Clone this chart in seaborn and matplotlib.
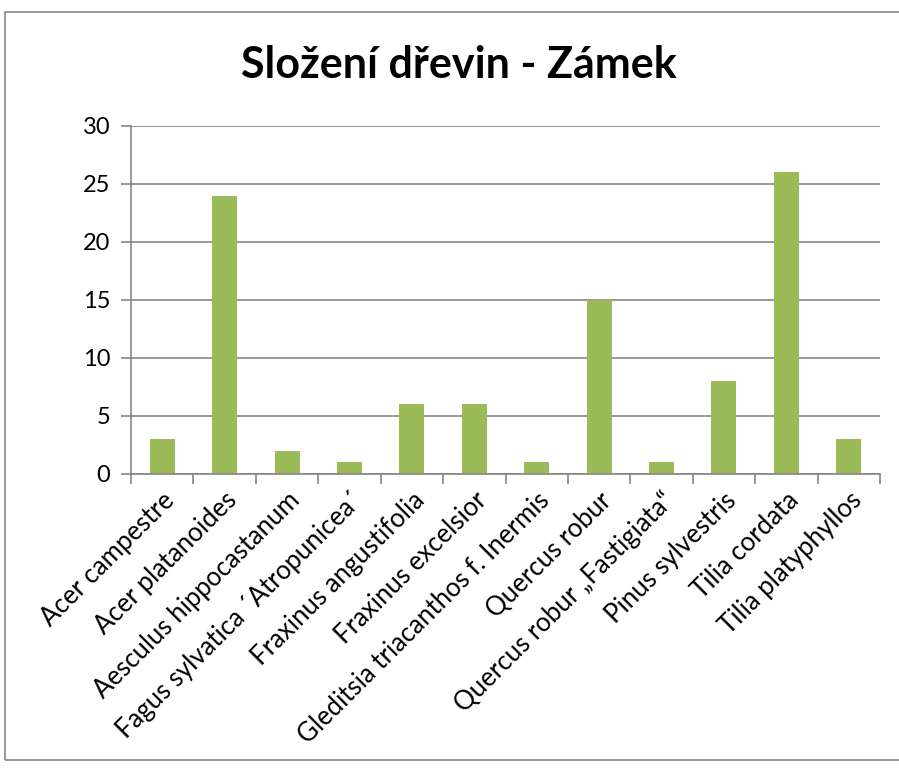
import matplotlib
matplotlib.use("Agg")
import matplotlib.pyplot as plt
import seaborn as sns
import pandas as pd
from matplotlib.patches import Rectangle

species = ["Acer campestre", "Acer platanoides", "Aesculus hippocastanum",
           "Fagus sylvatica ´Atropunicea´", "Fraxinus angustifolia",
           "Fraxinus excelsior", "Gleditsia triacanthos f. Inermis",
           "Quercus robur", "Quercus robur „Fastigiata“", "Pinus sylvestris",
           "Tilia cordata", "Tilia platyphyllos"]
counts = [3, 24, 2, 1, 6, 6, 1, 15, 1, 8, 26, 3]
yticks = [0, 5, 10, 15, 20, 25, 30]

sns.set_theme(style="white")
plt.rcParams['font.family'] = ['Lato', 'DejaVu Sans']

df = pd.DataFrame({"species": species, "count": counts})

fig = plt.figure(figsize=(8.99, 7.68), dpi=100)
ax = fig.add_axes([131/899, 1-474/768, (880-131)/899, (474-126)/768])

sns.barplot(data=df, x="species", y="count", color="#9BBB59", width=0.4,
            saturation=1, ax=ax, edgecolor="none")

ax.set_ylim(0, 30)
ax.set_xlim(-0.5, len(species) - 0.5)
ax.set_yticks(yticks)
ax.set_yticklabels([str(v) for v in yticks], fontsize=17, color="black")
ax.yaxis.grid(True, color="#868686", linewidth=1.2)
ax.set_axisbelow(True)
ax.set_xlabel("")
ax.set_ylabel("")

# x ticks at category boundaries
ax.set_xticks([i - 0.5 for i in range(len(species) + 1)], minor=False)
ax.set_xticklabels([])
ax.set_xticks(range(len(species)), minor=True)
ax.set_xticklabels(species, minor=True, rotation=45, ha="right", va="top",
                   rotation_mode="anchor", fontsize=18.5, color="black")
ax.tick_params(axis="x", which="major", length=7, width=1.2, color="#868686",
               direction="out", bottom=True)
ax.tick_params(axis="x", which="minor", length=0, pad=10)
ax.tick_params(axis="y", length=7, width=1.2, color="#868686", left=True, pad=8)

for s in ["top", "right"]:
    ax.spines[s].set_visible(False)
for s in ["left", "bottom"]:
    ax.spines[s].set_color("#868686")
    ax.spines[s].set_linewidth(1.2)

fig.text(459/899, 1-65/768, "Složení dřevin - Zámek", ha="center", va="center",
         fontsize=31, fontweight="bold", color="black")

fig.patches.append(Rectangle((5/899, 8/768), 1, 1-20/768, transform=fig.transFigure,
                             fill=False, edgecolor="#868686", linewidth=1.2))

fig.savefig("out.png", dpi=100)
